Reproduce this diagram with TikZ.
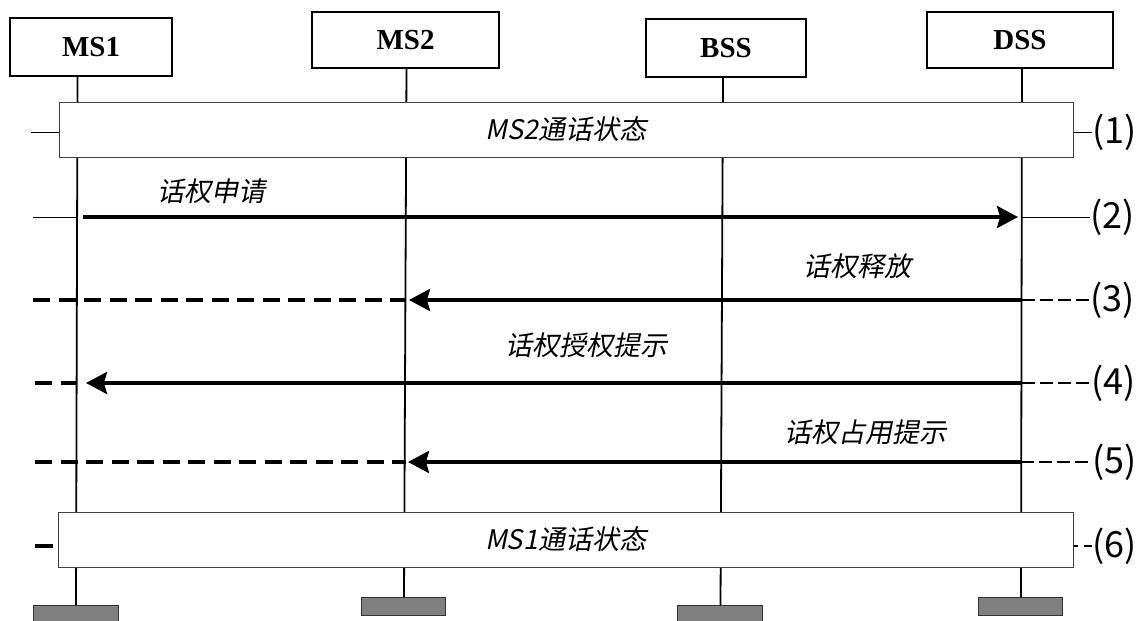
\documentclass[tikz,border=0pt]{standalone}
\usepackage{fontspec}
\setmainfont{Liberation Serif}
\newfontfamily\cjkit[FakeSlant=0.2]{Noto Sans CJK SC}
\newfontfamily\numfont{Noto Sans CJK SC}
\usetikzlibrary{arrows.meta}

\begin{document}
\begin{tikzpicture}[x=1pt,y=-1pt,
  hdr/.style={draw, line width=2pt, inner sep=0pt, font=\bfseries\fontsize{29}{29}\selectfont},
  foot/.style={draw=black!80, line width=1pt, fill=black!50, inner sep=0pt, minimum width=85pt, minimum height=18pt},
  life/.style={line width=1.8pt},
  statebox/.style={draw=black!75, line width=1pt, fill=white, inner sep=0pt, minimum height=55pt, font=\cjkit\fontsize{27}{27}\selectfont},
  msg/.style={line width=3.2pt, -{Stealth[length=21pt,width=22pt,inset=3pt]}},
  msglabel/.style={font=\cjkit\fontsize{27}{27}\selectfont, inner sep=0pt},
  thinlead/.style={line width=1pt},
  leftdash/.style={line width=3.2pt, dash pattern=on 17pt off 8.5pt},
  rightdash/.style={line width=2.3pt, dash pattern=on 12.5pt off 5.5pt},
  steplabel/.style={anchor=west, inner sep=0pt, font=\numfont\fontsize{36}{36}\selectfont}]
\useasboundingbox (0,0) rectangle (1141,621);

% entity headers
\node[hdr, minimum width=162pt, minimum height=58pt] (ms1) at (91,47) {MS1};
\node[hdr, minimum width=187pt, minimum height=56pt] (ms2) at (405.5,40) {MS2};
\node[hdr, minimum width=160pt, minimum height=58pt] (bss) at (726,48) {BSS};
\node[hdr, minimum width=186pt, minimum height=56pt] (dss) at (1020,40) {DSS};

% lifeline ends
\node[foot] (f1) at (75.5,614) {};
\node[foot, minimum width=84pt] (f2) at (403,606) {};
\node[foot] (f3) at (719.5,614) {};
\node[foot, minimum width=84pt] (f4) at (1020,606) {};

\coordinate (t1) at (77.5,76);   \coordinate (b1) at (76,605);
\coordinate (t2) at (406.5,68);  \coordinate (b2) at (404,597);
\coordinate (t3) at (723,77);    \coordinate (b3) at (720.5,605);
\coordinate (t4) at (1022,68);   \coordinate (b4) at (1021,597);

\draw[life] (t1) -- (b1);
\draw[life] (t2) -- (b2);
\draw[life] (t3) -- (b3);
\draw[life] (t4) -- (b4);

% call states
\node[statebox, minimum width=1014pt] (s1) at (566,129.5) {MS2通话状态};
\node[statebox, minimum width=1015pt] (s6) at (565.5,539.5) {MS1通话状态};

% step (1)
\coordinate (l1) at (31,132);
\coordinate (r1) at (1092,132);
\draw[thinlead] (l1) -- (l1 -| s1.west);
\draw[thinlead] (s1.east |- r1) -- (r1);
\node[steplabel] (n1) at (r1) {(1)};

% step (2)
\coordinate (l2) at (33,217);
\coordinate (a2) at (77,217);
\coordinate (m2s) at (83,217);
\coordinate (m2e) at (1018,217);
\coordinate (d2) at (1022,217);
\coordinate (r2) at (1090,217);
\draw[thinlead] (l2) -- (a2);
\draw[msg] (m2s) -- (m2e);
\draw[thinlead] (d2) -- (r2);
\node[steplabel] (n2) at (r2) {(2)};
\node[msglabel] (t2l) at (211,191) {话权申请};

% step (3)
\coordinate (l3) at (33,300);
\coordinate (a3) at (406,300);
\coordinate (m3e) at (409,300);
\coordinate (d3) at (1022,300);
\coordinate (r3) at (1090,300);
\draw[leftdash] (l3) -- (a3);
\draw[msg] (d3) -- (m3e);
\draw[rightdash] (d3) -- (r3);
\node[steplabel] (n3) at (r3) {(3)};
\node[msglabel] (t3l) at (857,266) {话权释放};

% step (4)
\coordinate (l4) at (35,383);
\coordinate (a4) at (77,383);
\coordinate (m4e) at (86,383);
\coordinate (d4) at (1022,383);
\coordinate (r4) at (1091,383);
\draw[leftdash] (l4) -- (a4);
\draw[msg] (d4) -- (m4e);
\draw[rightdash] (d4) -- (r4);
\node[steplabel] (n4) at (r4) {(4)};
\node[msglabel] (t4l) at (586,345) {话权授权提示};

% step (5)
\coordinate (l5) at (35,462);
\coordinate (a5) at (406,462);
\coordinate (m5e) at (408,462);
\coordinate (d5) at (1021,462);
\coordinate (r5) at (1092,462);
\draw[leftdash] (l5) -- (a5);
\draw[msg] (d5) -- (m5e);
\draw[rightdash] (d5) -- (r5);
\node[steplabel] (n5) at (r5) {(5)};
\node[msglabel] (t5l) at (865,432) {话权占用提示};

% step (6)
\coordinate (l6) at (35,546);
\coordinate (a6) at (53,546);
\coordinate (r6) at (1092,546);
\draw[line width=3.2pt] (l6) -- (a6);
\draw[line width=2.3pt, dash pattern=on 12pt off 6pt, dash phase=8pt] (s6.east |- r6) -- (r6);
\node[steplabel] (n6) at (r6) {(6)};
\end{tikzpicture}
\end{document}
